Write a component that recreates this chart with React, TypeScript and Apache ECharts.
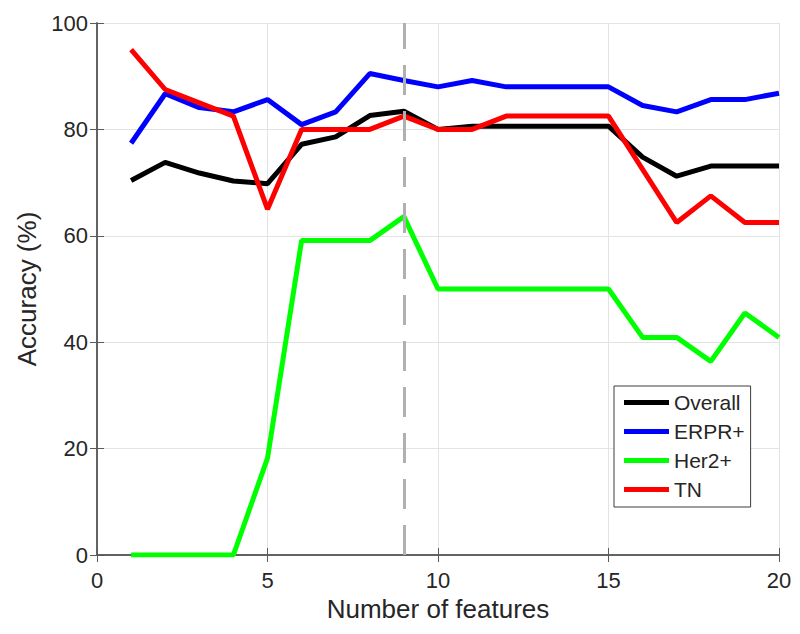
import React, { useEffect, useRef } from "react";
import * as echarts from "echarts";

const features = [1, 2, 3, 4, 5, 6, 7, 8, 9, 10, 11, 12, 13, 14, 15, 16, 17, 18, 19, 20];
const overall = [70.4, 73.8, 71.8, 70.3, 69.8, 77.2, 78.6, 82.6, 83.4, 80.0, 80.6, 80.6, 80.6, 80.6, 80.6, 74.8, 71.2, 73.1, 73.1, 73.1];
const erpr = [77.4, 86.7, 84.1, 83.3, 85.6, 80.9, 83.3, 90.5, 89.2, 88.0, 89.2, 88.0, 88.0, 88.0, 88.0, 84.5, 83.3, 85.6, 85.6, 86.8];
const her2 = [0, 0, 0, 0, 18.2, 59.1, 59.1, 59.1, 63.6, 50.0, 50.0, 50.0, 50.0, 50.0, 50.0, 40.9, 40.9, 36.4, 45.5, 40.9];
const tn = [95.0, 87.5, 85.0, 82.5, 65.0, 80.0, 80.0, 80.0, 82.5, 80.0, 80.0, 82.5, 82.5, 82.5, 82.5, 72.5, 62.5, 67.5, 62.5, 62.5];
const seriesNames = ["Overall", "ERPR+", "Her2+", "TN"];
const seriesColors = ["#000000", "#0000ff", "#00ff00", "#ff0000"];
const selectedFeatures = 9;

const FONT = "'Liberation Sans', Arial, Helvetica, sans-serif";
const TEXT = "#262626";
const AXIS = "#5a5a5a";

export default function App() {
  const ref = useRef<HTMLDivElement>(null);
  useEffect(() => {
    if (!ref.current) return;
    const chart = echarts.init(ref.current, undefined, { renderer: "svg" });
    const all = [overall, erpr, her2, tn];
    const series: any[] = all.map((vals, i) => ({
      name: seriesNames[i],
      type: "line",
      data: features.map((f, j) => [f, vals[j]]),
      showSymbol: false,
      symbol: "none",
      lineStyle: { width: 5, color: seriesColors[i] },
      itemStyle: { color: seriesColors[i] },
      z: 3 + i,
    }));
    series[0].markLine = {
      silent: true,
      symbol: "none",
      label: { show: false },
      lineStyle: { type: [30, 16], color: "#b0b0b0", width: 3 },
      data: [{ xAxis: selectedFeatures }],
      z: 10,
    };
    chart.setOption({
      animation: false,
      backgroundColor: "#ffffff",
      textStyle: { fontFamily: FONT },
      grid: { left: 97, right: 21, top: 23, bottom: 79, containLabel: false },
      legend: {
        data: seriesNames.map((n) => ({ name: n, icon: "rect" })),
        orient: "vertical",
        left: 614,
        top: 386,
        itemWidth: 45,
        itemHeight: 5,
        itemGap: 8,
        padding: [6, 6, 7, 10],
        backgroundColor: "#ffffff",
        borderColor: "#3c3c3c",
        borderWidth: 1,
        borderRadius: 0,
        textStyle: { fontSize: 21, lineHeight: 20, color: TEXT, fontFamily: FONT },
      },
      xAxis: [
        {
          type: "value",
          min: 0,
          max: 20,
          interval: 5,
          name: "Number of features",
          nameLocation: "middle",
          nameGap: 38,
          nameTextStyle: { fontSize: 26, color: TEXT, fontFamily: FONT },
          axisLine: { lineStyle: { color: AXIS, width: 1.5 } },
          axisTick: { inside: true, length: 7, lineStyle: { color: AXIS } },
          axisLabel: { fontSize: 22, color: TEXT, margin: 14, fontFamily: FONT },
          splitLine: { show: true, lineStyle: { color: "#e3e3e3", width: 1 } },
        },
        {
          type: "value",
          position: "top",
          min: 0,
          max: 20,
          interval: 5,
          axisLine: { show: true, lineStyle: { color: AXIS, width: 1.5 } },
          axisTick: { show: true, inside: true, length: 7, lineStyle: { color: AXIS } },
          axisLabel: { show: false },
          splitLine: { show: false },
        },
      ],
      yAxis: [
        {
          type: "value",
          min: 0,
          max: 100,
          interval: 20,
          name: "Accuracy (%)",
          nameLocation: "middle",
          nameGap: 56,
          nameTextStyle: { fontSize: 26, color: TEXT, fontFamily: FONT },
          axisLine: { show: true, lineStyle: { color: AXIS, width: 1.5 } },
          axisTick: { show: true, inside: true, length: 7, lineStyle: { color: AXIS } },
          axisLabel: { fontSize: 22, color: TEXT, margin: 9, fontFamily: FONT },
          splitLine: { show: true, lineStyle: { color: "#e3e3e3", width: 1 } },
        },
        {
          type: "value",
          position: "right",
          min: 0,
          max: 100,
          interval: 20,
          axisLine: { show: true, lineStyle: { color: AXIS, width: 1.5 } },
          axisTick: { show: true, inside: true, length: 7, lineStyle: { color: AXIS } },
          axisLabel: { show: false },
          splitLine: { show: false },
        },
      ],
      series,
    });
    return () => chart.dispose();
  }, []);
  return (
    <div
      ref={ref}
      style={{ position: "fixed", left: 0, top: 0, width: 800, height: 634, background: "#fff" }}
    />
  );
}
